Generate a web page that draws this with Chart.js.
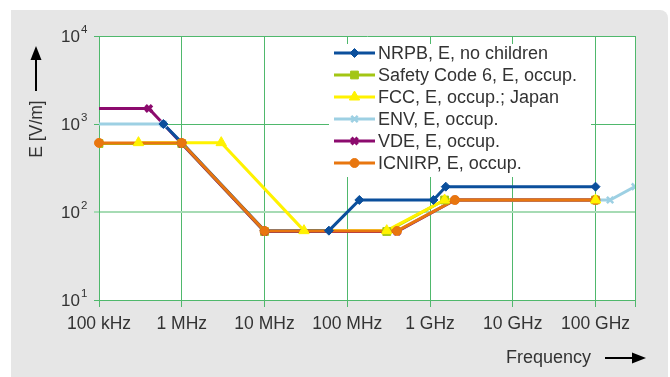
<!DOCTYPE html>
<html>
<head>
<meta charset="utf-8">
<script src="https://cdn.jsdelivr.net/npm/chart.js@4.4.1/dist/chart.umd.min.js"></script>
<style>
  html, body { margin: 0; padding: 0; background: #fff; }
  #wrap { position: relative; width: 670px; height: 377px; }
  #panel { position: absolute; left: 11px; top: 10px; width: 657px; height: 367px; background: #e6e6e6; border-top-right-radius: 8px; }
  #limitChart { position: absolute; left: 0; top: 0; }
</style>
</head>
<body>
<div id="wrap">
  <div id="panel"></div>
  <canvas id="limitChart" width="670" height="377"></canvas>
</div>
<script>
// frequency axis (Hz) and field axis (V/m)
const freqTicks = [1e5, 1e6, 1e7, 1e8, 1e9, 1e10, 1e11, 3e11];
const freqLabels = ["100 kHz", "1 MHz", "10 MHz", "100 MHz", "1 GHz", "10 GHz", "100 GHz", ""];
const fieldTicks = [10, 100, 1000, 10000];
const fieldExponents = ["1", "2", "3", "4"];

const seriesNames = [
    "NRPB, E, no children",
    "Safety Code 6, E, occup.",
    "FCC, E, occup.; Japan",
    "ENV, E, occup.",
    "VDE, E, occup.",
    "ICNIRP, E, occup.",
];

const nrpbFreq = [6e5, 1e6, 1e7, 6e7, 1.4e8, 1.1e9, 1.55e9, 1e11];
const nrpbE = [1000, 614, 61.4, 61.4, 137, 137, 194, 194];

const sc6Freq = [1e5, 1e6, 1e7, 3e8, 1.5e9, 1e11];
const sc6E = [600, 600, 60, 60, 137, 137];

const fccFreq = [3e5, 3e6, 3e7, 3e8, 1.5e9, 1e11];
const fccE = [614, 614, 61.4, 61.4, 137, 137];

const envFreq = [3e4, 6e5, 1e6, 1e7, 4e8, 2e9, 1.5e11, 3e11];
const envE = [1000, 1000, 600, 60, 60, 137, 137, 194];

const vdeFreq = [3e4, 4e5, 1e6, 1e7, 4e8, 2e9, 1e11];
const vdeE = [1500, 1500, 600, 60, 60, 137, 137];

const icnirpFreq = [1e5, 1e6, 1e7, 4e8, 2e9, 1e11];
const icnirpE = [610, 610, 61, 61, 137, 137];

const TEXT = "#333333";
const GRID = "#4fb86c";
const FONT = "'Liberation Sans', Arial, sans-serif";

function pairs(xs, ys) {
    return xs.map((x, i) => ({ x: x, y: ys[i] }));
}

// lineOrder / markOrder: lower value is drawn on top
const styles = [
    { color: "#0b4f9c", style: "rectRot", radius: 4.5, bw: 1, lineOrder: 11, markOrder: 2 },
    { color: "#a3c614", style: "rect", radius: 5.5, bw: 1, lineOrder: 15, markOrder: 5 },
    { color: "#fff200", style: "triangle", radius: 6, bw: 1, lineOrder: 14, markOrder: 0 },
    { color: "#9dd0e3", style: "crossRot", radius: 4.5, bw: 2.5, lineOrder: 13, markOrder: 4 },
    { color: "#8c0b6e", style: "crossRot", radius: 4.5, bw: 3.5, lineOrder: 12, markOrder: 3 },
    { color: "#e8760f", style: "circle", radius: 4.5, bw: 1, lineOrder: 10, markOrder: 1 },
];

const allData = [
    pairs(nrpbFreq, nrpbE),
    pairs(sc6Freq, sc6E),
    pairs(fccFreq, fccE),
    pairs(envFreq, envE),
    pairs(vdeFreq, vdeE),
    pairs(icnirpFreq, icnirpE),
];

// lines first, markers in a second pass on top (as the original does)
const lineSets = allData.map((d, i) => ({
    label: seriesNames[i],
    data: d,
    borderColor: styles[i].color,
    backgroundColor: styles[i].color,
    borderWidth: 3,
    pointRadius: 0,
    tension: 0,
    order: styles[i].lineOrder,
    clip: 0,
}));

const markSets = allData.map((d, i) => ({
    label: seriesNames[i] + " markers",
    data: d,
    showLine: false,
    pointStyle: styles[i].style,
    pointRadius: styles[i].radius,
    pointBorderWidth: styles[i].bw,
    pointBackgroundColor: styles[i].color,
    pointBorderColor: styles[i].color,
    order: styles[i].markOrder,
    clip: i === 5 ? false : 0,
}));

const decorPlugin = {
    id: "decor",
    beforeDraw(chart) {
        const { ctx, chartArea } = chart;
        ctx.save();
        ctx.fillStyle = "#ffffff";
        ctx.fillRect(chartArea.left, chartArea.top, chartArea.right - chartArea.left, chartArea.bottom - chartArea.top);
        ctx.restore();
    },
    afterDraw(chart) {
        const { ctx } = chart;
        const yScale = chart.scales.y;
        ctx.save();

        // y tick labels with exponent
        ctx.fillStyle = TEXT;
        fieldTicks.forEach((v, i) => {
            const y = yScale.getPixelForValue(v);
            ctx.font = "17px " + FONT;
            ctx.textAlign = "right";
            ctx.textBaseline = "middle";
            ctx.fillText("10", 80, y + 1);
            ctx.font = "11.5px " + FONT;
            ctx.textAlign = "left";
            ctx.fillText(fieldExponents[i], 81, y - 6);
        });

        // y axis title with arrow
        ctx.save();
        ctx.translate(37, 129);
        ctx.rotate(-Math.PI / 2);
        ctx.font = "17.5px " + FONT;
        ctx.textAlign = "center";
        ctx.textBaseline = "middle";
        ctx.fillText("E [V/m]", 0, 0);
        ctx.restore();
        ctx.strokeStyle = "#000";
        ctx.fillStyle = "#000";
        ctx.lineWidth = 2;
        ctx.beginPath();
        ctx.moveTo(36, 91);
        ctx.lineTo(36, 56);
        ctx.stroke();
        ctx.beginPath();
        ctx.moveTo(36, 46);
        ctx.lineTo(30.5, 60);
        ctx.lineTo(41.5, 60);
        ctx.closePath();
        ctx.fill();

        // x axis title with arrow
        ctx.fillStyle = TEXT;
        ctx.font = "18px " + FONT;
        ctx.textAlign = "left";
        ctx.textBaseline = "middle";
        ctx.fillText("Frequency", 506, 358);
        ctx.fillStyle = "#000";
        ctx.beginPath();
        ctx.moveTo(605, 358);
        ctx.lineTo(636, 358);
        ctx.stroke();
        ctx.beginPath();
        ctx.moveTo(646, 358);
        ctx.lineTo(632, 352.5);
        ctx.lineTo(632, 363.5);
        ctx.closePath();
        ctx.fill();

        // legend box
        ctx.fillStyle = "#ffffff";
        ctx.fillRect(329, 44, 262, 133);
        seriesNames.forEach((name, i) => {
            const y = 53 + i * 22;
            const st = styles[i];
            ctx.strokeStyle = st.color;
            ctx.fillStyle = st.color;
            ctx.lineWidth = 3;
            ctx.beginPath();
            ctx.moveTo(334, y);
            ctx.lineTo(375, y);
            ctx.stroke();
            ctx.lineWidth = st.bw;
            Chart.helpers.drawPoint(ctx, {
                pointStyle: st.style,
                radius: st.radius,
                rotation: 0,
                borderWidth: st.bw,
            }, 354.5, y);
            ctx.fillStyle = TEXT;
            ctx.font = "18px " + FONT;
            ctx.textAlign = "left";
            ctx.textBaseline = "middle";
            ctx.fillText(name, 378, y + 1);
        });
        ctx.restore();
    },
};

new Chart(document.getElementById("limitChart"), {
    type: "line",
    data: { datasets: lineSets.concat(markSets) },
    plugins: [decorPlugin],
    options: {
        responsive: false,
        devicePixelRatio: 1,
        animation: false,
        layout: { padding: { left: 0, top: 36, right: 35, bottom: 0 } },
        plugins: {
            legend: { display: false },
            tooltip: { enabled: false },
        },
        scales: {
            x: {
                type: "logarithmic",
                min: 1e5,
                max: 3e11,
                afterBuildTicks: (scale) => {
                    scale.ticks = freqTicks.map((v) => ({ value: v }));
                },
                afterFit: (scale) => {
                    scale.height = 77;
                },
                grid: {
                    color: GRID,
                    lineWidth: 1,
                    tickLength: 7,
                },
                border: { color: GRID },
                ticks: {
                    autoSkip: false,
                    maxRotation: 0,
                    padding: 7,
                    color: TEXT,
                    font: { family: FONT, size: 17.5 },
                    callback: (value) => {
                        const k = freqTicks.indexOf(value);
                        return k >= 0 ? freqLabels[k] : "";
                    },
                },
            },
            y: {
                type: "logarithmic",
                min: 10,
                max: 10000,
                afterBuildTicks: (scale) => {
                    scale.ticks = fieldTicks.map((v) => ({ value: v }));
                },
                afterFit: (scale) => {
                    scale.width = 99;
                },
                grid: {
                    color: (c) => (c.tick && c.tick.value === 100 ? "#a6dbb4" : GRID),
                    lineWidth: (c) => (c.tick && c.tick.value === 100 ? 2 : 1),
                    tickLength: 5,
                },
                border: { color: GRID },
                ticks: { display: false },
            },
        },
    },
});
</script>
</body>
</html>
